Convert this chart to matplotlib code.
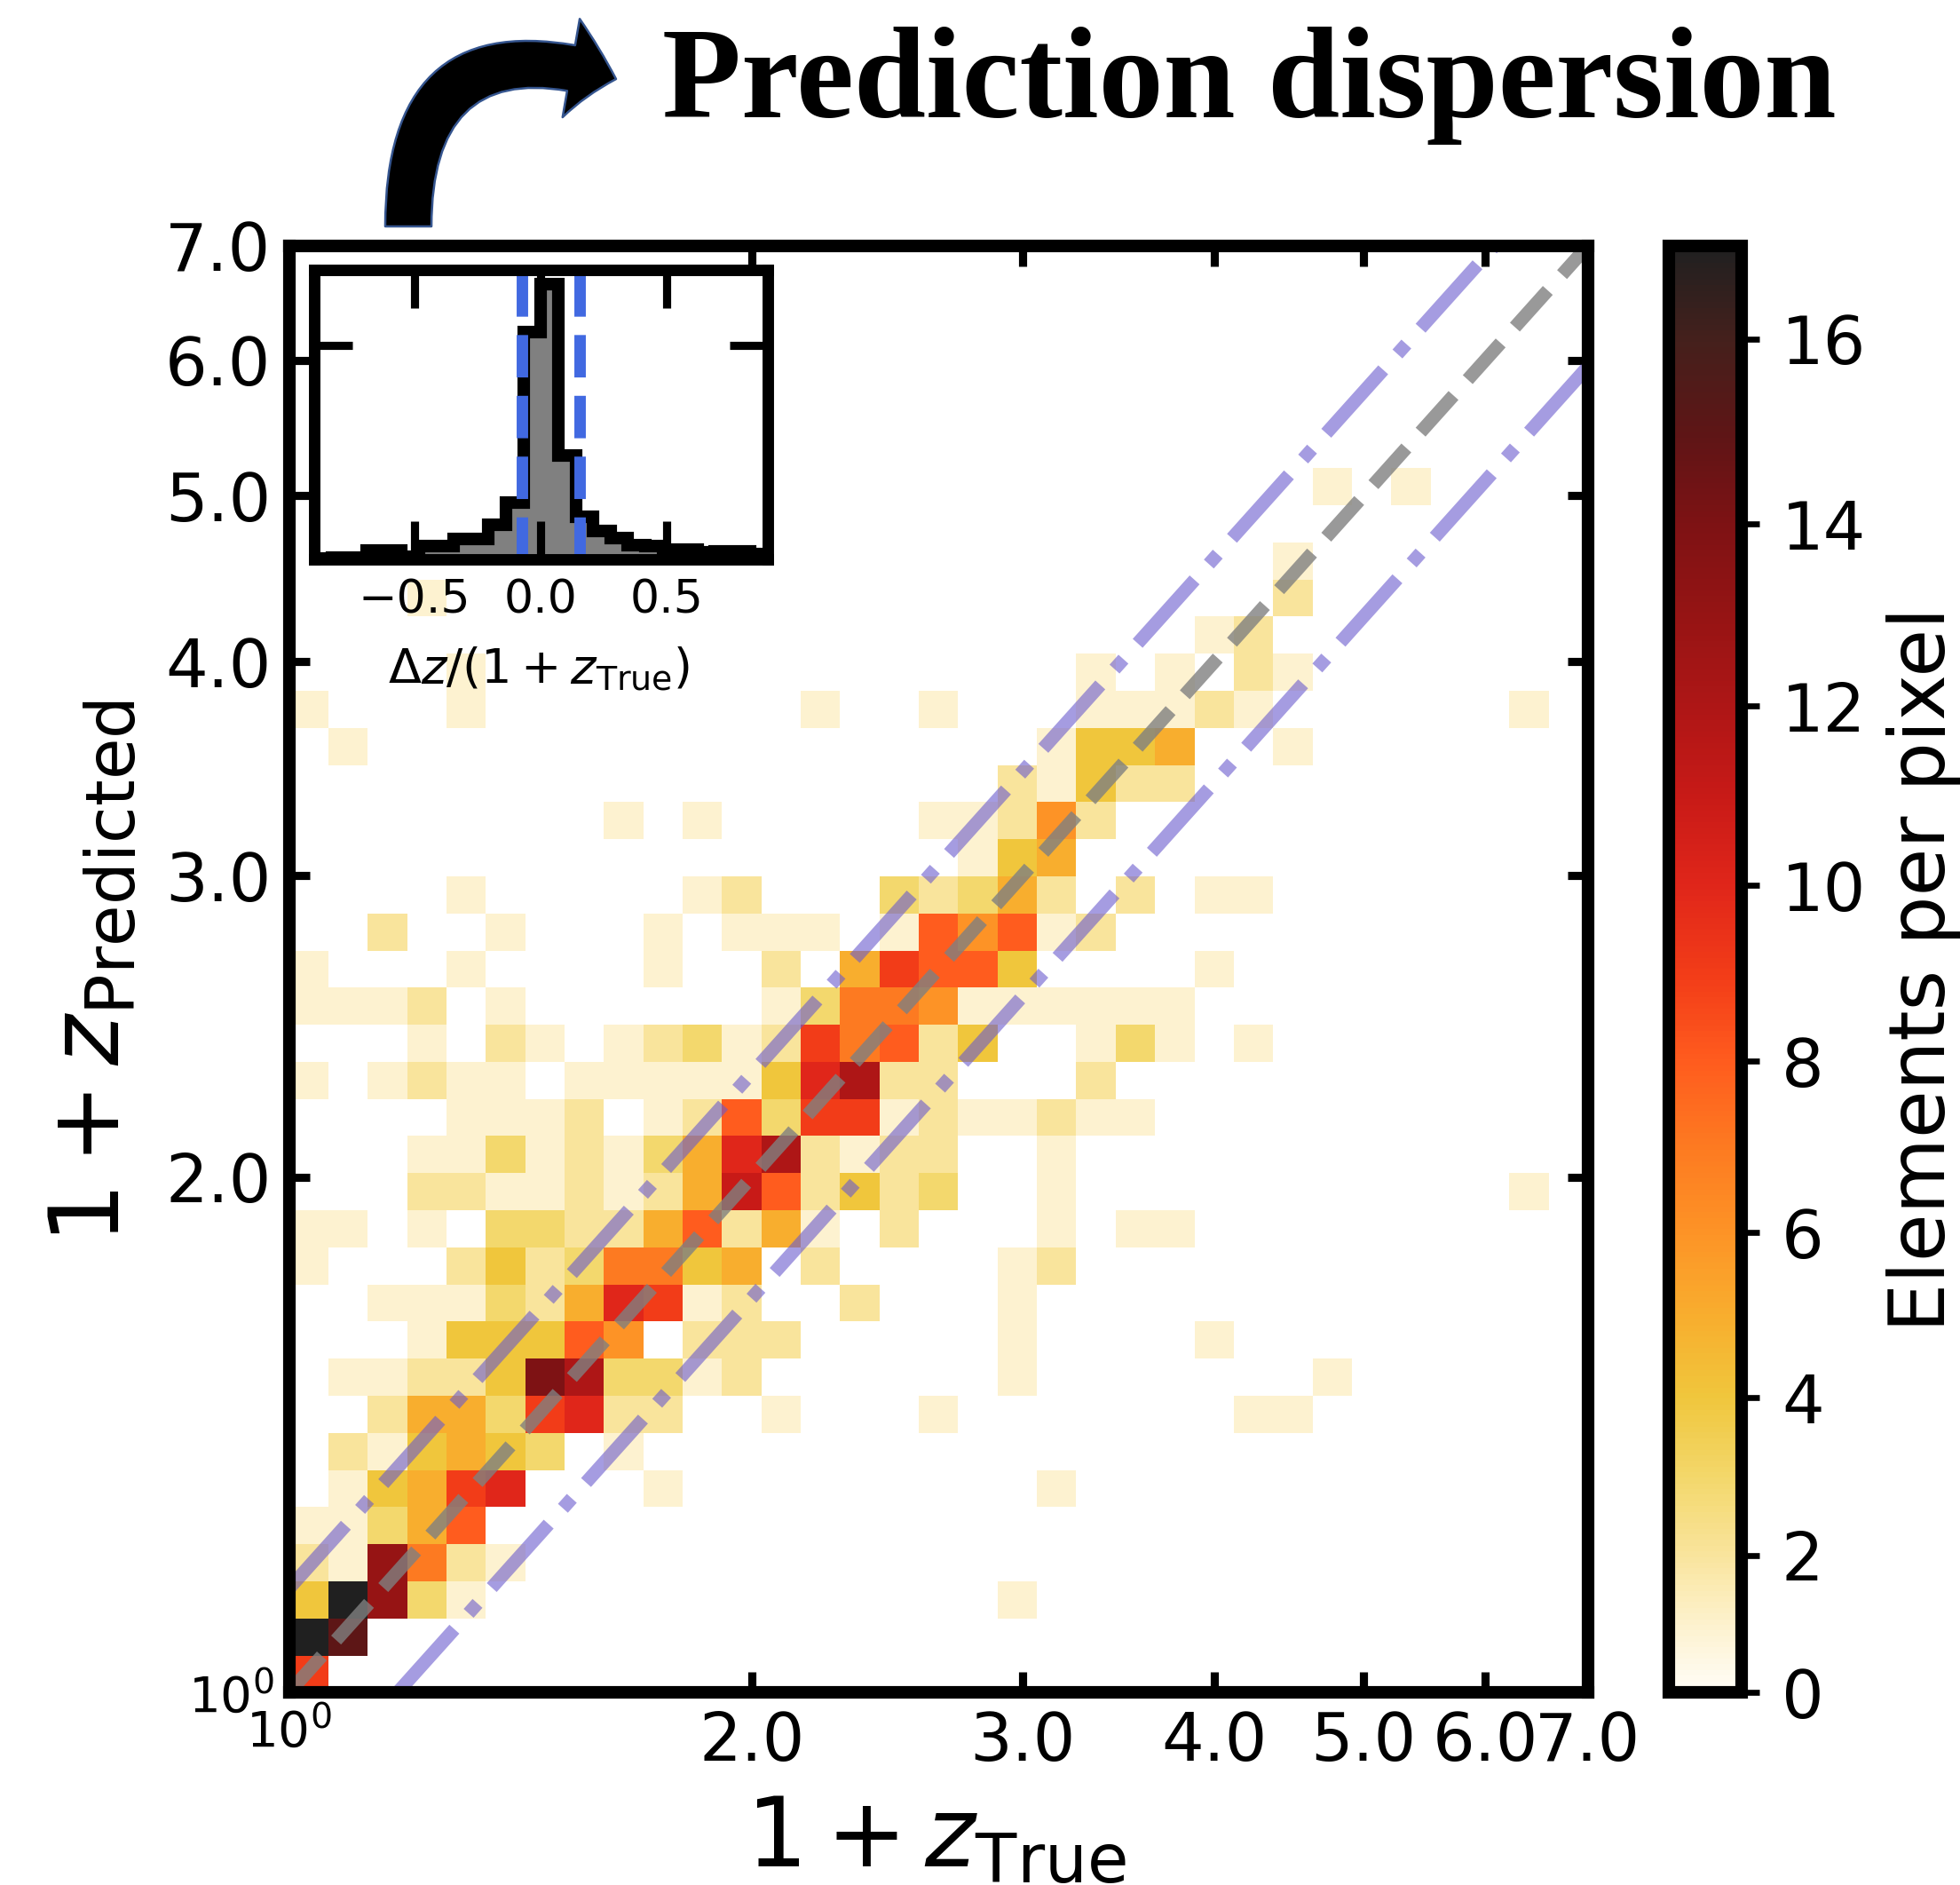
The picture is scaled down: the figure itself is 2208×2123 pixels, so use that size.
import numpy as np
import matplotlib
matplotlib.use("Agg")
import matplotlib.pyplot as plt
from matplotlib.colors import LinearSegmentedColormap, PowerNorm
from matplotlib.patches import FancyArrowPatch, ArrowStyle
from matplotlib.ticker import FixedLocator, FormatStrFormatter, LogFormatterSciNotation

# ---------------- data ----------------
z_lo, z_hi = 1.0, 7.0            # axis range of 1+z (log scale)
n_x_bins, n_y_bins = 33, 39      # log-spaced bins in x (true) and y (predicted)
count_max = 17
outlier_frac = 0.15              # |dz|/(1+z) outlier threshold lines

# elements per pixel: one dict per y bin (bottom -> top), {x bin index: count}
rows = [
    {0: 9},
    {0: 17, 1: 15},
    {0: 4, 1: 17, 2: 13, 3: 3, 4: 1, 18: 1},
    {0: 2, 1: 1, 2: 13, 3: 7, 4: 2, 5: 1},
    {0: 1, 1: 1, 2: 3, 3: 5, 4: 8},
    {1: 1, 2: 4, 3: 5, 4: 9, 5: 10, 9: 1, 19: 1},
    {1: 2, 2: 1, 3: 4, 4: 5, 5: 4, 6: 3, 8: 1},
    {2: 2, 3: 5, 4: 5, 5: 3, 6: 9, 7: 10, 8: 2, 9: 2, 12: 1, 16: 1, 24: 1, 25: 1},
    {1: 1, 2: 1, 3: 2, 4: 2, 5: 4, 6: 14, 7: 12, 8: 3, 9: 3, 10: 1, 11: 2, 18: 1, 26: 1},
    {3: 1, 4: 4, 5: 4, 6: 4, 7: 8, 8: 6, 10: 2, 11: 2, 12: 2, 18: 1, 23: 1},
    {2: 1, 3: 1, 4: 1, 5: 3, 6: 2, 7: 5, 8: 10, 9: 9, 10: 1, 11: 2, 14: 2, 18: 1},
    {0: 1, 4: 2, 5: 4, 6: 2, 7: 3, 8: 7, 9: 7, 10: 4, 11: 5, 13: 2, 18: 1, 19: 2},
    {0: 1, 1: 1, 3: 1, 5: 3, 6: 3, 7: 2, 8: 2, 9: 5, 10: 8, 11: 2, 12: 5, 13: 1, 15: 2,
     19: 1, 21: 1, 22: 1},
    {3: 2, 4: 2, 5: 1, 6: 1, 7: 2, 8: 1, 9: 2, 10: 5, 11: 11, 12: 8, 13: 2, 14: 4, 15: 2,
     16: 3, 19: 1, 31: 1},
    {3: 1, 4: 1, 5: 3, 6: 1, 7: 2, 8: 1, 9: 3, 10: 5, 11: 10, 12: 12, 13: 2, 14: 1, 15: 2,
     16: 2, 19: 1},
    {4: 1, 5: 1, 6: 1, 7: 2, 9: 1, 10: 2, 11: 8, 12: 3, 13: 9, 14: 9, 15: 1, 16: 2, 17: 1,
     18: 1, 19: 2, 20: 1, 21: 1},
    {0: 1, 2: 1, 3: 2, 4: 1, 5: 1, 7: 1, 8: 1, 9: 1, 10: 1, 11: 1, 12: 4, 13: 10, 14: 12,
     15: 2, 16: 2, 20: 2},
    {3: 1, 5: 2, 6: 1, 8: 1, 9: 2, 10: 3, 11: 1, 12: 2, 13: 9, 14: 7, 15: 8, 16: 2, 17: 4,
     20: 1, 21: 3, 22: 1, 24: 1},
    {0: 1, 1: 1, 2: 1, 3: 2, 5: 1, 12: 1, 13: 3, 14: 7, 15: 7, 16: 6, 17: 1, 18: 1, 19: 1,
     20: 1, 21: 1, 22: 1},
    {0: 1, 4: 1, 9: 1, 12: 2, 14: 5, 15: 9, 16: 8, 17: 8, 18: 4, 23: 1},
    {2: 2, 5: 1, 9: 1, 11: 1, 12: 1, 13: 1, 15: 1, 16: 8, 17: 6, 18: 8, 19: 1, 20: 2},
    {4: 1, 10: 1, 11: 2, 15: 3, 16: 2, 17: 3, 18: 5, 19: 2, 21: 2, 23: 1, 24: 1},
    {17: 1, 18: 4, 19: 5},
    {8: 1, 10: 1, 16: 1, 17: 1, 18: 2, 19: 6, 20: 2},
    {18: 2, 19: 1, 20: 4, 21: 2, 22: 2},
    {1: 1, 19: 1, 20: 4, 21: 4, 22: 5, 25: 1},
    {0: 1, 4: 1, 13: 1, 16: 1, 20: 1, 21: 1, 22: 1, 23: 2, 24: 1, 31: 1},
    {4: 1, 20: 1, 22: 1, 24: 2, 25: 1},
    {23: 1, 24: 2},
    {3: 1, 25: 2},
    {25: 1},
    {},
    {26: 1, 28: 1},
    {}, {}, {}, {}, {}, {},
]

# inset: distribution of dz/(1+z_true)
dz_edges = np.linspace(-0.966, 0.966, 29)
dz_density = [0.0, 0.02, 0.03, 0.04, 0.2, 0.2, 0.06, 0.3, 0.3, 0.46, 0.46, 0.81, 1.33, 5.31,
              6.43, 2.42, 0.99, 0.66, 0.48, 0.32, 0.3, 0.22, 0.22, 0.15, 0.18, 0.18, 0.12, 0.0]
dz_bounds = [-0.075, 0.155]      # blue dashed lines
dz_ylim_top = 6.77
dz_ytick = [5]

# colour map nodes (count -> colour)
node_counts = [0, 1, 2, 3, 4, 5, 6, 7, 8, 9, 10, 11, 12, 13, 14, 15, 16, 17]
node_colors = ["#fffdf6", "#fdf2cf", "#f9e49b", "#f3d76a", "#f0c63c", "#f8ad2e", "#fd9326",
               "#fd7a21", "#ff5b1e", "#f23c18", "#e0261a", "#c81a17", "#ae1616", "#961414",
               "#7e1214", "#5e1516", "#45201c", "#202020"]
cbar_ticks = list(range(0, 17, 2))

# ---------------- figure ----------------
W, H = 2208, 2123
fig = plt.figure(figsize=(W / 300, H / 300), dpi=300)

norm = PowerNorm(gamma=1.1, vmin=0, vmax=count_max)
pos = [float(norm(c)) for c in node_counts]
cmap = LinearSegmentedColormap.from_list("ember", list(zip(pos, node_colors)))

counts = np.zeros((n_y_bins, n_x_bins))
for j, r in enumerate(rows):
    for i, v in r.items():
        counts[j, i] = v
counts = np.ma.masked_equal(counts, 0)

x_edges = np.logspace(np.log10(z_lo), np.log10(z_hi), n_x_bins + 1)
y_edges = np.logspace(np.log10(z_lo), np.log10(z_hi), n_y_bins + 1)

ax = fig.add_axes([325.5 / W, 1 - 1906.3 / H, 1463.5 / W, 1629.7 / H])
ax.set_xscale("log")
ax.set_yscale("log")
mesh = ax.pcolormesh(x_edges, y_edges, counts, cmap=cmap, norm=norm, shading="flat",
                     edgecolors="none", zorder=1)
ax.set_xlim(z_lo, z_hi)
ax.set_ylim(z_lo, z_hi)

lx = np.array([z_lo, z_hi])
ax.plot(lx, lx, ls="--", color="gray", alpha=0.8, lw=3.6, zorder=3)
ax.plot(lx, (1 + outlier_frac) * lx, ls="-.", color="slateblue", alpha=0.6, lw=3.6, zorder=3)
lx_low = np.array([z_lo / (1 - outlier_frac), z_hi])
ax.plot(lx_low, (1 - outlier_frac) * lx_low, ls="-.", color="slateblue", alpha=0.6, lw=3.6,
        zorder=3)

for axis in (ax.xaxis, ax.yaxis):
    axis.set_major_locator(FixedLocator([1.0]))
    axis.set_major_formatter(LogFormatterSciNotation())
    axis.set_minor_locator(FixedLocator([2, 3, 4, 5, 6, 7]))
    axis.set_minor_formatter(FormatStrFormatter("%.1f"))
ax.tick_params(which="both", direction="in", top=True, right=True, length=5.5, width=2.2)
ax.tick_params(which="minor", labelsize=18, pad=4.8)
ax.tick_params(which="major", labelsize=13.5, pad=4.0)
for sp in ax.spines.values():
    sp.set_linewidth(3.4)
    sp.set_zorder(5)

fig.text(1054 / W, 1 - 2102 / H, r"$1 + z_{\mathrm{True}}$", fontsize=26,
         ha="center", va="baseline")
fig.text(134 / W, 1 - 1094.5 / H, r"$1 + z_{\mathrm{Predicted}}$", fontsize=26,
         ha="center", va="baseline", rotation=90, rotation_mode="anchor")

# colorbar
cax = fig.add_axes([1880 / W, 1 - 1906.3 / H, 82 / W, 1629.7 / H])
cb = fig.colorbar(mesh, cax=cax, ticks=cbar_ticks)
cb.outline.set_linewidth(3.4)
cax.tick_params(length=4.8, width=1.6, labelsize=18, pad=6)
cb.set_label("Elements per pixel", fontsize=21, labelpad=5.5)

# inset histogram
ax_in = fig.add_axes([353.6 / W, 1 - 629.6 / H, 511.4 / W, 325.9 / H])
ax_in.stairs(dz_density, dz_edges, fill=True, color="gray", zorder=1)
ax_in.stairs(dz_density, dz_edges, color="black", lw=3.4, zorder=2)
for b in dz_bounds:
    ax_in.axvline(b, color="royalblue", ls="--", lw=3.1, zorder=3)
ax_in.set_xlim(-0.9, 0.9)
ax_in.set_ylim(0, dz_ylim_top)
ax_in.set_xticks([-0.5, 0.0, 0.5])
ax_in.set_xticklabels(["\u22120.5", "0.0", "0.5"])
ax_in.set_yticks(dz_ytick)
ax_in.tick_params(direction="in", top=True, right=True, labelleft=False, length=10.4,
                  width=2.2, labelsize=12.5, pad=5.3)
for sp in ax_in.spines.values():
    sp.set_linewidth(3.1)
    sp.set_zorder(5)
fig.text(607 / W, 1 - 768.6 / H, r"$\Delta z/(1 + z_{\mathrm{True}})$", fontsize=13,
         ha="center", va="baseline")

# title + curved arrow
fig.text(746 / W, 1 - 132 / H, "Prediction dispersion", fontfamily="Liberation Serif",
         fontweight="bold", fontsize=35, ha="left", va="baseline")
arrow = FancyArrowPatch((460 / W, 1 - 255 / H), (694 / W, 1 - 89 / H),
                        transform=fig.transFigure,
                        connectionstyle="angle3,angleA=90,angleB=-17",
                        arrowstyle=ArrowStyle.Simple(head_length=12.5, head_width=27,
                                                     tail_width=12.5),
                        mutation_scale=1, shrinkA=0, shrinkB=0,
                        facecolor="black", edgecolor="#35558f", lw=0.6)
fig.patches.append(arrow)

fig.savefig("out.png", dpi=300)
